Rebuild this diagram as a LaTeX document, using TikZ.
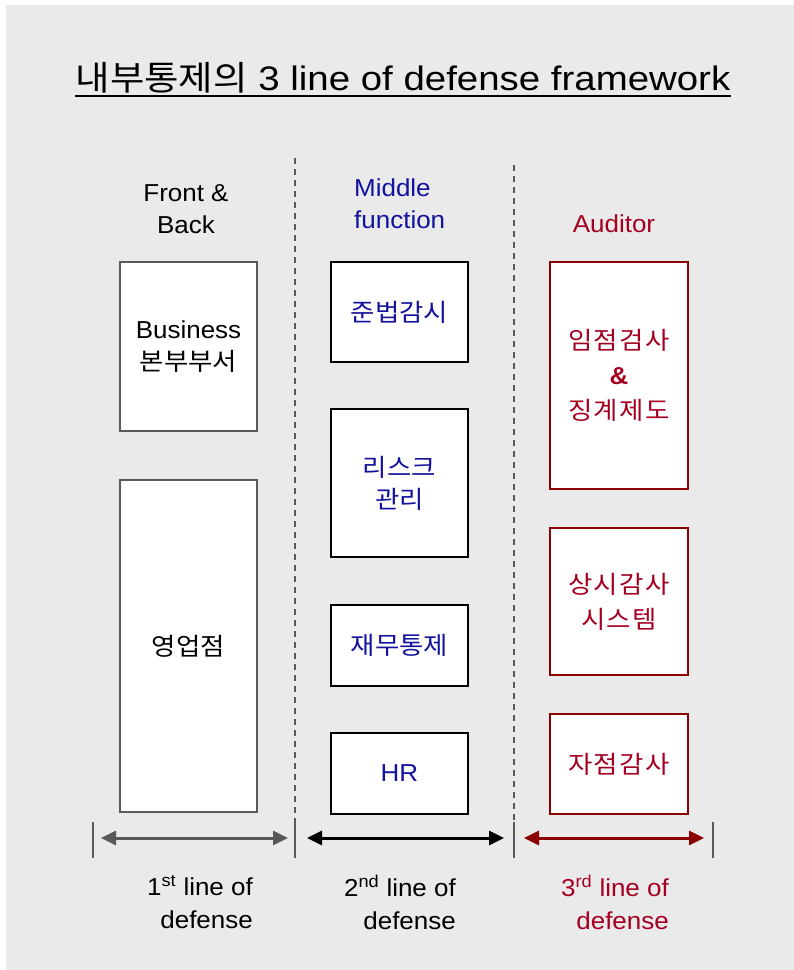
\documentclass[tikz,border=0pt]{standalone}
\usepackage{fontspec}
\setmainfont{Liberation Sans}[FakeStretch=1.06]
\newfontfamily\titlefont{Liberation Sans}[FakeStretch=1.13]
\newfontfamily\krt{Noto Sans CJK KR}[FakeStretch=1.1]
\newfontfamily\kr{Noto Sans CJK KR}[FakeStretch=1.08]
\newfontfamily\krs{Noto Sans CJK KR}[FakeStretch=1.08,LetterSpace=6]
\usetikzlibrary{arrows.meta}
\definecolor{bggray}{HTML}{EAEAEA}
\definecolor{dgray}{HTML}{595959}
\definecolor{maroon}{HTML}{8B0000}
\definecolor{crimson}{HTML}{A50021}
\definecolor{navy}{HTML}{12129E}
\tikzset{
  txt/.style={inner sep=0pt, align=center, font=\fontsize{24.5}{32}\selectfont},
  box/.style={draw, fill=white, line width=2pt, inner sep=0pt, minimum width=137pt, align=center, font=\fontsize{24.5}{32}\selectfont},
  gbox/.style={box, draw=dgray},
  kbox/.style={box, draw=black, text=navy},
  rbox/.style={box, draw=maroon, minimum width=138pt, text=crimson},
  divider/.style={dgray, line width=1.5pt, dash pattern=on 6pt off 5pt},
  tick/.style={dgray, line width=1.5pt},
  arr/.style={{Triangle[length=15pt,width=14pt]}-{Triangle[length=15pt,width=14pt]}, line width=3pt},
}
\begin{document}
\begin{tikzpicture}[x=1pt,y=-1pt]
\useasboundingbox (0,0) rectangle (794,970);
\fill[bggray] (6,5) rectangle (794,970);

% title
\node[inner sep=0pt, anchor=base, font=\fontsize{34}{40}\selectfont\titlefont] (title) at (403,90) {{\krt 내부통제의} 3 line of defense framework};
\draw[line width=2pt] ([yshift=-6pt]title.base west) -- ([yshift=-6pt]title.base east);

% column headers
\node[txt] (h1) at (186,209) {Front \&\\Back};
\node[txt, align=left, anchor=west, text=navy] (h2) at (354,204) {Middle\\function};
\node[txt, text=crimson] (h3) at (614,224) {Auditor};

% dividers
\coordinate (d1t) at (295,158);
\coordinate (d1b) at (295,822);
\coordinate (d2t) at (514,165);
\coordinate (d2b) at (514,822);
\draw[divider] (d1t) -- (d1b);
\draw[divider] (d2t) -- (d2b);

% column 1
\node[gbox, minimum height=169pt] (bus) at (188.5,346.5) {Business\\{\kr 본부부서}};
\node[gbox, minimum height=332pt] (branch) at (188.5,646) {{\kr 영업점}};

% column 2
\node[kbox, minimum height=100pt] (comp) at (399.5,312) {{\kr 준법감시}};
\node[kbox, minimum height=148pt] (risk) at (399.5,483) {{\kr 리스크}\\{\kr 관리}};
\node[kbox, minimum height=81pt] (fin) at (399.5,645.5) {{\kr 재무통제}};
\node[kbox, minimum height=81pt] (hr) at (399.5,773.5) {HR};

% column 3
\node[rbox, minimum height=227pt, font=\fontsize{24.5}{35}\selectfont] (insp) at (619,375.5) {{\krs 임점검사}\\\textbf{\&}\\{\krs 징계제도}};
\node[rbox, minimum height=147pt, font=\fontsize{24.5}{35}\selectfont] (cont) at (619,601.5) {{\krs 상시감사}\\{\krs 시스템}};
\node[rbox, minimum height=100pt] (self) at (619,764) {{\krs 자점감사}};

% ticks
\coordinate (t1a) at (93,822);  \coordinate (t1b) at (93,858);
\coordinate (t2a) at (295,822); \coordinate (t2b) at (295,858);
\coordinate (t3a) at (514,822); \coordinate (t3b) at (514,858);
\coordinate (t4a) at (713,822); \coordinate (t4b) at (713,858);
\draw[tick] (t1a) -- (t1b);
\draw[tick] (t2a) -- (t2b);
\draw[tick] (t3a) -- (t3b);
\draw[tick] (t4a) -- (t4b);

% arrows
\coordinate (a1l) at (101,838); \coordinate (a1r) at (288,838);
\coordinate (a2l) at (307,838); \coordinate (a2r) at (504,838);
\coordinate (a3l) at (524,838); \coordinate (a3r) at (704,838);
\draw[arr, dgray] (a1l) -- (a1r);
\draw[arr, black] (a2l) -- (a2r);
\draw[arr, maroon] (a3l) -- (a3r);

% bottom labels
\node[txt, align=right, anchor=east, font=\fontsize{24.5}{33}\selectfont] (l1) at (253,902) {1\textsuperscript{st} line of\\defense};
\node[txt, align=right, anchor=east, font=\fontsize{24.5}{33}\selectfont] (l2) at (456,902) {2\textsuperscript{nd} line of\\defense};
\node[txt, align=right, anchor=east, font=\fontsize{24.5}{33}\selectfont, text=crimson] (l3) at (669,902) {3\textsuperscript{rd} line of\\defense};
\end{tikzpicture}
\end{document}
